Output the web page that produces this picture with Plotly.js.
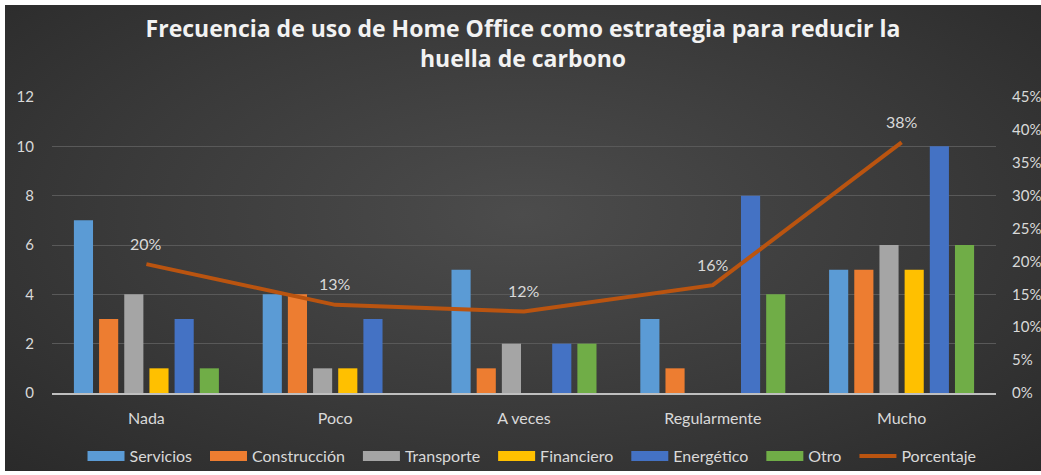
<!DOCTYPE html>
<html>
<head>
<meta charset="utf-8">
<script src="https://cdn.plot.ly/plotly-3.0.1.min.js"></script>
<style>
  html, body { margin: 0; padding: 0; background: #ffffff; width: 1041px; height: 475px; overflow: hidden; }
  #wrap { position: absolute; left: 5px; top: 5px; width: 1036px; height: 466px;
          background: radial-gradient(ellipse at 50% 45%, #4c4c4c 0%, #3a3a3a 55%, #2a2a2a 100%); }
  #chart { width: 1036px; height: 466px; }
</style>
</head>
<body>
<div id="wrap"><div id="chart"></div></div>
<script>
// ---- data ----
const categories = ["Nada", "Poco", "A veces", "Regularmente", "Mucho"];
const servicios    = [7, 4, 5, 3, 5];
const construccion = [3, 4, 1, 1, 5];
const transporte   = [4, 1, 2, 0, 6];
const financiero   = [1, 1, 0, 0, 5];
const energetico   = [3, 3, 2, 8, 10];
const otro         = [1, 0, 2, 4, 6];
const porcentaje   = [0.196, 0.134, 0.124, 0.164, 0.381];
const percentLabels = ["20%", "13%", "12%", "16%", "38%"];
const leftTicks  = [0, 2, 4, 6, 8, 10, 12];
const rightTicks = [0, 0.05, 0.10, 0.15, 0.20, 0.25, 0.30, 0.35, 0.40, 0.45];
const rightTickText = ["0%", "5%", "10%", "15%", "20%", "25%", "30%", "35%", "40%", "45%"];

const barSeries = [
  {name: "Servicios",    y: servicios,    color: "#5B9BD5"},
  {name: "Construcción", y: construccion, color: "#ED7D31"},
  {name: "Transporte",   y: transporte,   color: "#A5A5A5"},
  {name: "Financiero",   y: financiero,   color: "#FFC000"},
  {name: "Energético",   y: energetico,   color: "#4472C4"},
  {name: "Otro",         y: otro,         color: "#70AD47"}
];
const lineColor = "#BA5410";
const legendPad = "\u2002"; // extra spacing after legend entries

const textColor = "#d9d9d9";
const fontFam = "Lato, 'Open Sans', sans-serif";

const traces = [];
barSeries.forEach(s => {
  traces.push({
    type: "bar", name: s.name, x: categories, y: s.y,
    marker: {color: s.color}, legendgroup: s.name, showlegend: false,
    hoverinfo: "x+y+name"
  });
});
traces.push({
  type: "scatter", mode: "lines", name: "Porcentaje",
  x: categories, y: porcentaje, yaxis: "y2", legendgroup: "Porcentaje",
  showlegend: false, line: {color: lineColor, width: 4}
});
// legend entries (wide swatches like the original)
barSeries.forEach(s => {
  traces.push({
    type: "scatter", mode: "lines", name: s.name + legendPad, x: [null], y: [null],
    legendgroup: s.name, showlegend: true, hoverinfo: "skip",
    line: {color: s.color, width: 10}
  });
});
traces.push({
  type: "scatter", mode: "lines", name: "Porcentaje", x: [null], y: [null],
  yaxis: "y2", legendgroup: "Porcentaje", showlegend: true, hoverinfo: "skip",
  line: {color: lineColor, width: 4}
});

const annotations = categories.map((c, i) => ({
  x: c, y: porcentaje[i], xref: "x", yref: "y2",
  text: percentLabels[i],
  showarrow: false, yshift: 21,
  font: {family: fontFam, size: 16, color: textColor}
}));

const layout = {
  width: 1036, height: 466,
  paper_bgcolor: "rgba(0,0,0,0)", plot_bgcolor: "rgba(0,0,0,0)",
  margin: {l: 47, r: 45, t: 92, b: 78, autoexpand: false},
  title: {
    text: "Frecuencia de uso de Home Office como estrategia para reducir la<br>huella de carbono",
    font: {family: "'Open Sans', sans-serif", size: 23, color: "#f2f2f2", weight: 700},
    x: 0.5, xanchor: "center", y: 0.932, yanchor: "top", yref: "container"
  },
  barmode: "group", bargap: 0.2, bargroupgap: 0.24,
  showlegend: true,
  legend: {
    orientation: "h", x: 0.5087, xanchor: "center", xref: "container",
    y: 0.032, yanchor: "middle", yref: "container",
    font: {family: fontFam, size: 16, color: textColor},
    bgcolor: "rgba(0,0,0,0)", itemwidth: 37
  },
  xaxis: {
    showgrid: false, showline: true, linecolor: "#bfbfbf", linewidth: 2,
    tickfont: {family: fontFam, size: 16, color: textColor},
    ticks: "", ticklabelstandoff: 10, fixedrange: true
  },
  yaxis: {
    range: [0, 12], tickvals: leftTicks, showgrid: true, gridcolor: "#595959", gridwidth: 1,
    zeroline: false, tickfont: {family: fontFam, size: 15, color: textColor},
    ticks: "", ticklabelstandoff: 17, fixedrange: true
  },
  yaxis2: {
    overlaying: "y", side: "right", range: [0, 0.45],
    tickvals: rightTicks, ticktext: rightTickText, showgrid: false, zeroline: false,
    tickfont: {family: fontFam, size: 15, color: textColor},
    ticks: "", ticklabelstandoff: 15, fixedrange: true
  },
  annotations: annotations
};

Plotly.newPlot("chart", traces, layout, {displayModeBar: false, responsive: false});
</script>
</body>
</html>
